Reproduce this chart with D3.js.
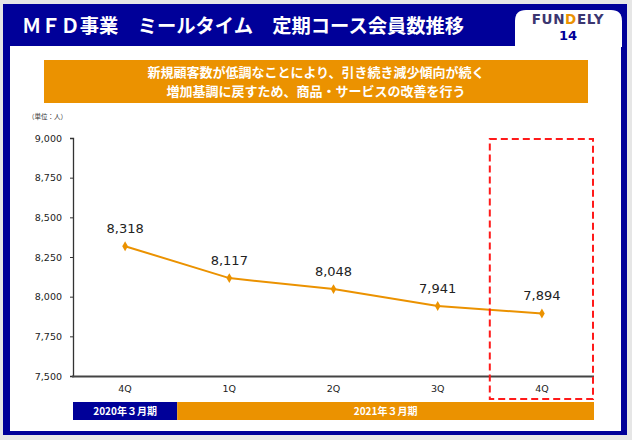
<!DOCTYPE html>
<html><head><meta charset="utf-8">
<script src="https://cdn.jsdelivr.net/npm/d3@7"></script>
<style>html,body{margin:0;padding:0;background:#e6e6e6;}svg{display:block;}</style>
</head><body>
<script>
const categories = ["4Q", "1Q", "2Q", "3Q", "4Q"];
const members = [8318, 8117, 8048, 7941, 7894];
const yTicks = [7500, 7750, 8000, 8250, 8500, 8750, 9000];
const periods = [{label: "2020年３月期", span: 1}, {label: "2021年３月期", span: 4}];
const titleText = "ＭＦＤ事業　ミールタイム　定期コース会員数推移";
const bannerLines = ["新規顧客数が低調なことにより、引き続き減少傾向が続く", "増加基調に戻すため、商品・サービスの改善を行う"];
const unitText = "（単位：人）";
const pageNo = "14";

const W = 632, H = 440;
const blue = "#000099", orange = "#EB9200";
const jp = "'Noto Sans CJK JP', 'Noto Sans', sans-serif";
const num = "'DejaVu Sans', Verdana, sans-serif";

const svg = d3.select("body").append("svg").attr("width", W).attr("height", H);
svg.append("rect").attr("width", W).attr("height", H).attr("fill", "#e6e6e6");
svg.append("rect").attr("x", 3).attr("y", 4).attr("width", 624).attr("height", 431).attr("fill", blue);
svg.append("rect").attr("x", 10).attr("y", 46).attr("width", 611).attr("height", 385).attr("fill", "#fff");

svg.append("text").attr("x", 22).attr("y", 33).attr("fill", "#fff")
  .attr("font-family", jp).attr("font-weight", "bold").attr("font-size", 19.3)
  .text(titleText);

// logo tab
const tx0 = 515, tx1 = 622, ty0 = 10, ty1 = 47, r = 11;
svg.append("path").attr("fill", "#fff")
  .attr("d", `M${tx0},${ty1} L${tx0},${ty0+r} Q${tx0},${ty0} ${tx0+r},${ty0} L${tx1-r},${ty0} Q${tx1},${ty0} ${tx1},${ty0+r} L${tx1},${ty1} Z`);
const logo = svg.append("text").attr("x", 568).attr("y", 24).attr("text-anchor", "middle")
  .attr("font-family", num).attr("font-weight", "bold").attr("font-size", 13.5).attr("letter-spacing", 0.6);
logo.append("tspan").attr("fill", "#3b3670").text("FUN");
logo.append("tspan").attr("fill", orange).text("D");
logo.append("tspan").attr("fill", "#3b3670").text("ELY");
svg.append("text").attr("x", 568).attr("y", 40).attr("text-anchor", "middle")
  .attr("font-family", num).attr("font-weight", "bold").attr("font-size", 13).attr("fill", blue).text(pageNo);

// banner
svg.append("rect").attr("x", 44).attr("y", 60).attr("width", 544).attr("height", 43).attr("fill", orange);
svg.append("g").selectAll("text").data(bannerLines).join("text")
  .attr("x", 316).attr("y", (d, i) => 77 + i * 19).attr("text-anchor", "middle")
  .attr("fill", "#fff").attr("font-family", jp).attr("font-weight", "bold").attr("font-size", 13)
  .text(d => d);

svg.append("text").attr("x", 28).attr("y", 119).attr("font-family", jp).attr("font-size", 6.5)
  .attr("fill", "#333").text(unitText);

// chart
const x = d3.scaleBand().domain(d3.range(categories.length)).range([73, 594]);
const y = d3.scaleLinear().domain([7500, 9000]).range([376, 138]);

const yAxis = svg.append("g").attr("transform", "translate(73,0)")
  .call(d3.axisLeft(y).tickValues(yTicks).tickFormat(d3.format(",")).tickSize(3).tickPadding(8));
yAxis.select(".domain").attr("stroke", "#333").attr("stroke-width", 1.3);
yAxis.selectAll(".tick line").attr("stroke", "#333");
yAxis.selectAll("text").attr("font-family", num).attr("font-size", 9.5).attr("fill", "#222");

svg.append("line").attr("x1", 72).attr("x2", 594).attr("y1", 376.5).attr("y2", 376.5)
  .attr("stroke", "#444").attr("stroke-width", 2);

svg.append("g").selectAll("text").data(categories).join("text")
  .attr("x", (d, i) => x(i) + x.bandwidth() / 2).attr("y", 392).attr("text-anchor", "middle")
  .attr("font-family", num).attr("font-size", 9.5).attr("fill", "#222").text(d => d);

const line = d3.line().x((d, i) => x(i) + x.bandwidth() / 2).y(d => y(d));
svg.append("path").datum(members).attr("d", line).attr("fill", "none")
  .attr("stroke", orange).attr("stroke-width", 2);
svg.append("g").selectAll("path").data(members).join("path")
  .attr("transform", (d, i) => `translate(${x(i) + x.bandwidth() / 2},${y(d)})`)
  .attr("d", d3.symbol(d3.symbolDiamond, 28)).attr("fill", orange);
svg.append("g").selectAll("text").data(members).join("text")
  .attr("x", (d, i) => x(i) + x.bandwidth() / 2).attr("y", d => y(d) - 13).attr("text-anchor", "middle")
  .attr("font-family", num).attr("font-size", 13).attr("fill", "#222").text(d3.format(","));

// period bar
let start = 0;
periods.forEach((p, i) => {
  const x0 = x(start), x1 = x(start + p.span - 1) + x.bandwidth();
  svg.append("rect").attr("x", x0).attr("y", 402).attr("width", x1 - x0).attr("height", 18)
    .attr("fill", i === 0 ? blue : orange);
  svg.append("text").attr("x", (x0 + x1) / 2).attr("y", 415).attr("text-anchor", "middle")
    .attr("fill", "#fff").attr("font-family", jp).attr("font-weight", "bold").attr("font-size", 10)
    .text(p.label);
  start += p.span;
});

// highlight box
const hi = categories.length - 1;
svg.append("rect").attr("x", x(hi)).attr("y", 139).attr("width", x.bandwidth() - 1).attr("height", 260)
  .attr("fill", "none").attr("stroke", "#ff1a1a").attr("stroke-width", 2).attr("stroke-dasharray", "7,4");
</script>
</body></html>
